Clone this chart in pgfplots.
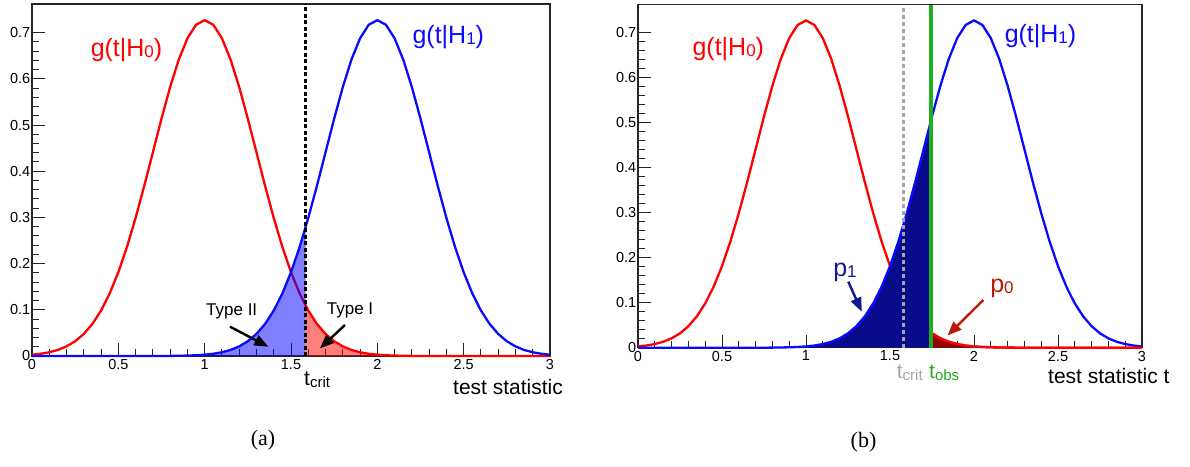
\documentclass[border=0pt]{standalone}
\usepackage{pgfplots}
\pgfplotsset{compat=1.18}
\usepackage{fontspec}
\setmainfont{Liberation Sans}
\newfontfamily\capfont{Liberation Serif}
\usetikzlibrary{arrows.meta}

\definecolor{navyfill}{RGB}{10,10,140}
\definecolor{darkredfill}{RGB}{150,0,0}
\definecolor{pzero}{RGB}{185,25,10}
\definecolor{pone}{RGB}{15,25,145}
\definecolor{obsgreen}{RGB}{30,175,30}
\definecolor{critgray}{RGB}{165,165,165}
\definecolor{curvered}{RGB}{255,0,0}
\definecolor{curveblue}{RGB}{10,10,255}

\newcommand{\sbs}[3][-1.5pt]{\raisebox{#1}{\fontsize{#2}{#2}\selectfont #3}}

\pgfplotsset{
 rootaxis/.style={
  scale only axis, xmin=0, xmax=3, ymin=0, ymax=0.762,
  axis line style={black!85, line width=1.2pt},
  xtick={0,0.5,1,1.5,2,2.5,3},
  ytick={0,0.1,0.2,0.3,0.4,0.5,0.6,0.7},
  minor x tick num=4, minor y tick num=4,
  tick align=inside, xtick pos=left, ytick pos=left,
  major tick length=13pt, minor tick length=7pt,
  tick style={black!85, line width=1pt},
  /pgf/number format/assume math mode=true,
  tick label style={font=\fontsize{14.5}{16}\selectfont},
  yticklabel style={inner sep=1.5pt},
  xticklabel style={inner sep=2pt, yshift=-1pt},
  clip=false,
 }
}

\pgfplotstableread{
t g
0 0.0028
0.05 0.0048
0.1 0.0081
0.15 0.0131
0.2 0.0208
0.25 0.0319
0.3 0.0478
0.35 0.0695
0.4 0.0984
0.45 0.1354
0.5 0.1813
0.55 0.2360
0.6 0.2989
0.65 0.3681
0.7 0.4409
0.75 0.5137
0.8 0.5821
0.85 0.6416
0.9 0.6877
0.95 0.7170
1 0.7270
1.05 0.7170
1.1 0.6877
1.15 0.6416
1.2 0.5821
1.25 0.5137
1.3 0.4409
1.35 0.3681
1.4 0.2989
1.45 0.2360
1.5 0.1813
1.55 0.1354
1.6 0.0984
1.65 0.0695
1.7 0.0478
1.75 0.0319
1.8 0.0208
1.85 0.0131
1.9 0.0081
1.95 0.0048
2 0.0028
2.05 0.0016
2.1 0.0009
2.15 0.0005
2.2 0.0002
2.25 0.0001
2.3 0
3 0
}\gzero

\pgfplotstableread{
t g
0 0
0.75 0
0.8 0.0002
0.85 0.0005
0.9 0.0009
0.95 0.0016
1 0.0028
1.05 0.0048
1.1 0.0081
1.15 0.0131
1.2 0.0208
1.25 0.0319
1.3 0.0478
1.35 0.0695
1.4 0.0984
1.45 0.1354
1.5 0.1813
1.55 0.2360
1.6 0.2989
1.65 0.3681
1.7 0.4409
1.75 0.5137
1.8 0.5821
1.85 0.6416
1.9 0.6877
1.95 0.7170
2 0.7270
2.05 0.7170
2.1 0.6877
2.15 0.6416
2.2 0.5821
2.25 0.5137
2.3 0.4409
2.35 0.3681
2.4 0.2989
2.45 0.2360
2.5 0.1813
2.55 0.1354
2.6 0.0984
2.65 0.0695
2.7 0.0478
2.75 0.0319
2.8 0.0208
2.85 0.0131
2.9 0.0081
2.95 0.0048
3 0.0028
}\gone

\begin{document}
\begin{tikzpicture}[x=1pt,y=1pt]
\path (0,0) rectangle (1190,466);

% ---------------- panel (a)
\begin{axis}[rootaxis, at={(32pt,110pt)}, anchor=south west, width=518pt, height=352pt]
\addplot[curvered, line width=2.3pt] table[x=t,y=g] {\gzero};
% Type II area
\addplot[draw=none, fill=blue, fill opacity=0.5] coordinates {
(0.8,0.0002)(0.85,0.0005)(0.9,0.0009)(0.95,0.0016)(1,0.0028)(1.05,0.0048)(1.1,0.0081)
(1.15,0.0131)(1.2,0.0208)(1.25,0.0319)(1.3,0.0478)(1.35,0.0695)(1.4,0.0984)(1.45,0.1354)
(1.5,0.1813)(1.55,0.2360)(1.585,0.2790)} \closedcycle;
% Type I area
\addplot[draw=none, fill=red, fill opacity=0.5] coordinates {
(1.585,0.1086)(1.6,0.0984)(1.65,0.0695)(1.7,0.0478)(1.75,0.0319)(1.8,0.0208)(1.85,0.0131)
(1.9,0.0081)(1.95,0.0048)(2,0.0028)(2.05,0.0016)(2.1,0.0009)(2.2,0.0002)(2.3,0)} \closedcycle;
\addplot[curveblue, line width=2.3pt] table[x=t,y=g] {\gone};
\addplot[black, line width=2.8pt, dash pattern=on 4pt off 2.5pt] coordinates {(1.585,0)(1.585,0.762)};
\end{axis}

% ---------------- panel (b)
\begin{axis}[rootaxis, at={(638pt,118.3pt)}, anchor=south west, width=504pt, height=343pt]
\addplot[curvered, line width=2.3pt] table[x=t,y=g] {\gzero};
\addplot[draw=none, fill=navyfill] coordinates {
(0.8,0.0002)(0.85,0.0005)(0.9,0.0009)(0.95,0.0016)(1,0.0028)(1.05,0.0048)(1.1,0.0081)
(1.15,0.0131)(1.2,0.0208)(1.25,0.0319)(1.3,0.0478)(1.35,0.0695)(1.4,0.0984)(1.45,0.1354)
(1.5,0.1813)(1.55,0.2360)(1.6,0.2989)(1.65,0.3681)(1.7,0.4409)(1.744,0.5050)} \closedcycle;
\addplot[curveblue, line width=2.3pt] table[x=t,y=g] {\gone};
\addplot[draw=none, fill=darkredfill] coordinates {
(1.744,0.0336)(1.75,0.0319)(1.8,0.0208)(1.85,0.0131)(1.9,0.0081)(1.95,0.0048)(2,0.0028)
(2.05,0.0016)(2.1,0.0009)(2.2,0.0002)(2.3,0)} \closedcycle;
\addplot[curvered, line width=2.3pt] coordinates {
(1.744,0.0336)(1.75,0.0319)(1.8,0.0208)(1.85,0.0131)(1.9,0.0081)(1.95,0.0048)(2,0.0028)
(2.05,0.0016)(2.1,0.0009)(2.2,0.0002)(2.3,0)(3,0)};
\addplot[critgray, line width=2.8pt, dash pattern=on 4pt off 3pt] coordinates {(1.579,0)(1.579,0.762)};
\addplot[obsgreen, line width=3.2pt] coordinates {(1.744,0)(1.744,0.762)};
\end{axis}

% ---------------- annotations (a)
\node[text=red, font=\fontsize{25}{28}\selectfont, inner sep=0] at (126.5,416) {g(t|H\sbs[-1pt]{17}{0})};
\node[text=curveblue, font=\fontsize{25}{28}\selectfont, inner sep=0] at (448.3,429.3) {g(t|H\sbs[-1pt]{17}{1})};
\node[font=\fontsize{17}{19}\selectfont, inner sep=0] at (231.7,154.3) {Type II};
\node[font=\fontsize{17}{19}\selectfont, inner sep=0] at (350,156) {Type I};
\draw[line width=2.4pt, -{Triangle[length=14pt,width=11pt]}] (230,139.3) -- (268.3,119.3);
\draw[line width=2.4pt, -{Triangle[length=14pt,width=11pt]}] (345,141) -- (320,117.7);
\node[anchor=base west, inner sep=0, font=\fontsize{21}{23}\selectfont] at (304,81) {t\sbs[-2.5pt]{15}{crit}};
\node[anchor=base west, inner sep=0, font=\fontsize{21}{23}\selectfont] at (453,72) {test statistic};
\node[font=\capfont\fontsize{22}{24}\selectfont, inner sep=0] at (263,26) {(a)};

% ---------------- annotations (b)
\node[text=red, font=\fontsize{25}{28}\selectfont, inner sep=0] at (728.3,417.3) {g(t|H\sbs[-1pt]{17}{0})};
\node[text=curveblue, font=\fontsize{25}{28}\selectfont, inner sep=0] at (1040.5,430) {g(t|H\sbs[-1pt]{17}{1})};
\node[text=pone, font=\fontsize{25}{28}\selectfont, inner sep=0] at (845,194) {p\sbs[-1pt]{17}{1}};
\node[text=pzero, font=\fontsize{25}{28}\selectfont, inner sep=0] at (1002,178) {p\sbs[-1pt]{17}{0}};
\draw[pone, line width=2.4pt, -{Triangle[length=14pt,width=11pt]}] (848.3,184.3) -- (861.7,154.3);
\draw[pzero, line width=2.4pt, -{Triangle[length=14pt,width=11pt]}] (983.3,166) -- (947.5,130.5);
\node[anchor=base west, inner sep=0, text=critgray, font=\fontsize{21}{23}\selectfont] at (896.7,88) {t\sbs[-2.5pt]{15}{crit}};
\node[anchor=base west, inner sep=0, text=obsgreen, font=\fontsize{21}{23}\selectfont] at (929,88) {t\sbs[-2pt]{15}{obs}};
\node[anchor=base west, inner sep=0, font=\fontsize{21}{23}\selectfont] at (1048,82.7) {test statistic t};
\node[font=\capfont\fontsize{22}{24}\selectfont, inner sep=0] at (863.5,24) {(b)};
\end{tikzpicture}
\end{document}
